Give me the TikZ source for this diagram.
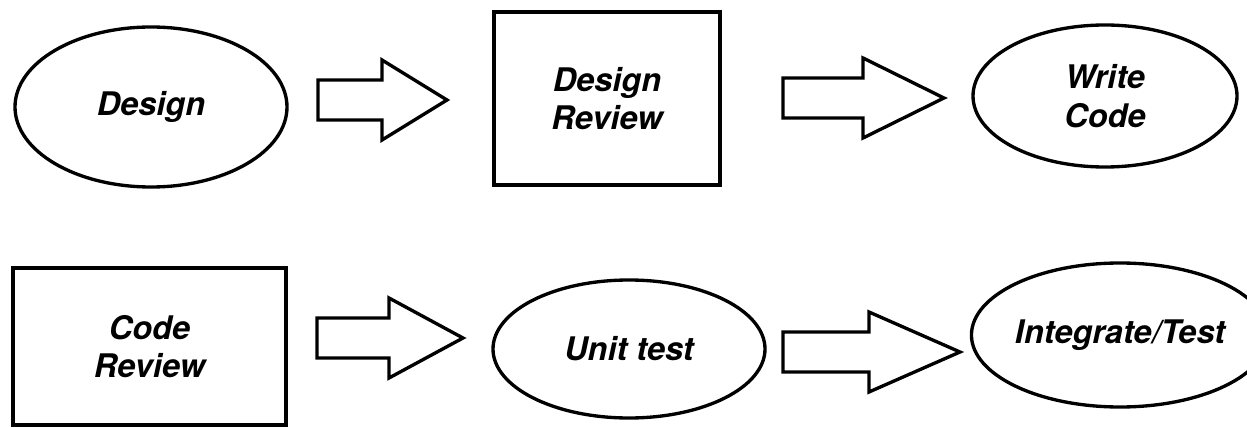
\documentclass[tikz,border=0pt]{standalone}
\usepackage{fontspec}
\setmainfont{TeX Gyre Heros}
\usetikzlibrary{shapes.geometric}

\tikzset{
  stage/.style={draw,ellipse,inner sep=0pt,align=center,
    font=\fontsize{18.5}{22}\selectfont\bfseries\itshape},
  review/.style={draw,rectangle,inner sep=0pt,align=center,
    font=\fontsize{18.5}{22}\selectfont\bfseries\itshape}
}
% block arrow: start x, head base x, tip x, mid y
\newcommand{\flowarrow}[4]{%
  \draw[line join=miter] (#1,#4-0.4)--(#2,#4-0.4)--(#2,#4-0.8)--(#3,#4)
    --(#2,#4+0.8)--(#2,#4+0.4)--(#1,#4+0.4)--cycle;}

\begin{document}
\begin{tikzpicture}[line width=1.9pt]
  \useasboundingbox (0,0) rectangle (24.94,8.54);
  % top row
  \node[stage,minimum width=5.44cm,minimum height=3.2cm] (design) at (3.02,6.40) {Design};
  \node[review,minimum width=4.52cm,minimum height=3.46cm] (desrev) at (12.14,6.57) {Design\\Review};
  \node[stage,minimum width=5.28cm,minimum height=2.84cm] (write) at (22.10,6.62) {Write\\Code};
  \flowarrow{6.36}{7.64}{8.94}{6.54}
  \flowarrow{15.66}{17.26}{18.88}{6.58}
  % bottom row
  \node[review,minimum width=5.46cm,minimum height=3.14cm] (coderev) at (2.99,1.61) {Code\\Review};
  \node[stage,minimum width=5.44cm,minimum height=2.76cm] (unit) at (12.58,1.56) {Unit test};
  \node[stage,minimum width=5.08cm,minimum height=2.88cm] (integ) at (22.40,1.84) {Integrate/Test};
  \flowarrow{6.34}{7.78}{9.26}{1.78}
  \flowarrow{15.66}{17.38}{19.20}{1.50}
\end{tikzpicture}
\end{document}
